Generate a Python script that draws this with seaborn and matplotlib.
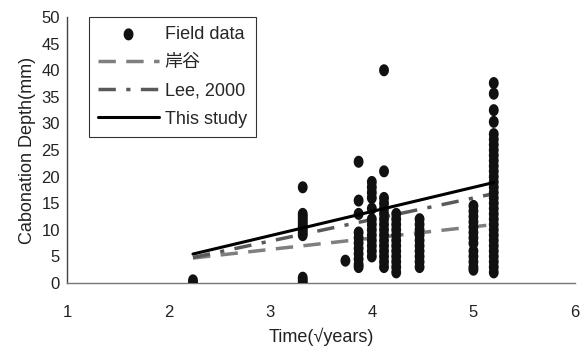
import matplotlib
matplotlib.use("Agg")
import matplotlib.pyplot as plt
import numpy as np
import pandas as pd
import seaborn as sns
from matplotlib.path import Path

sns.set_theme(style="white")
plt.rcParams["font.family"] = ["Liberation Sans", "Noto Sans CJK KR", "DejaVu Sans"]

# field measurements, one list per sqrt(age) column
field_x = [2.24, 3.32, 3.74, 3.87, 4.0, 4.12, 4.24, 4.47, 5.0, 5.2]
field_y = [
    [0, 0.5],
    [18, 13, 12.5, 12, 11.5, 11, 10.5, 10, 9.5, 9, 1, 0.5, 0],
    [4.2],
    [22.8, 15.5, 13, 9.5, 8.5, 7.5, 6.5, 5.5, 4.5, 3.5, 3],
    [19, 18, 17, 16, 14, 12, 11, 10, 9, 8, 7, 6, 5],
    [40, 21, 16, 15, 14, 13, 12, 11, 10, 9, 8, 7, 6, 5, 4, 3],
    [13, 12, 11, 10, 9, 8, 7, 6, 5, 4, 3, 2],
    [12, 11, 10, 9, 8, 7, 6, 5, 4, 3],
    [14.5, 13.5, 12.5, 11.5, 10.5, 9.5, 8.5, 7.5, 6, 5, 4, 3, 2.5],
    [37.6, 35.6, 32.5, 30.3, 28, 27, 26, 25, 24, 23, 22, 21, 20, 19, 18,
     17, 16, 15, 14, 13, 12, 11, 10, 9, 8, 7, 6, 5, 4, 3, 2],
]

# model lines (end points)
line_x = [2.24, 5.2]
kishitani_y = [4.7, 11.0]
lee_y = [4.8, 16.8]
this_study_y = [5.45, 18.9]

rows = [(x, y) for x, ys in zip(field_x, field_y) for y in ys]
df = pd.DataFrame(rows, columns=["time", "depth"])

# slightly tall ellipse marker
t = np.linspace(0, 2 * np.pi, 40)
ellipse = Path(np.column_stack([0.82 * np.cos(t), np.sin(t)]), closed=True)

fig = plt.figure(figsize=(5.85, 3.56), dpi=100)
ax = fig.add_axes([0.1145, 0.205, 0.8685, 0.747])

sns.scatterplot(data=df, x="time", y="depth", ax=ax, marker=ellipse,
                s=75, color="#111111", edgecolor="none", label="Field data",
                zorder=3)
sns.lineplot(x=line_x, y=kishitani_y, ax=ax, color="#7f7f7f", lw=2.5,
             label="岸谷", zorder=2).lines[-1].set_dashes([5, 3])
sns.lineplot(x=line_x, y=lee_y, ax=ax, color="#595959", lw=2.5,
             label="Lee, 2000", zorder=2).lines[-1].set_dashes([5, 3, 1.2, 3])
sns.lineplot(x=line_x, y=this_study_y, ax=ax, color="black", lw=2.2,
             label="This study", zorder=4)

ax.set_xlim(1, 6)
ax.set_ylim(0, 50)
ax.set_xticks(np.arange(1, 7, 1))
ax.set_yticks(np.arange(0, 51, 5))
ax.tick_params(axis="both", length=0, labelsize=12, colors="#222222", pad=5)
ax.tick_params(axis="x", pad=16)

for side in ["top", "right"]:
    ax.spines[side].set_visible(False)
ax.spines["left"].set_color("#444444")
ax.spines["bottom"].set_color("#777777")
ax.spines["left"].set_linewidth(1)
ax.spines["bottom"].set_linewidth(1)

ax.set_xlabel("Time(√years)", fontsize=13, color="#222222", labelpad=5)
ax.set_ylabel("Cabonation Depth(mm)", fontsize=13, color="#222222",
              labelpad=4)

leg = ax.legend(loc="upper left", bbox_to_anchor=(0.043, 1.0),
                fontsize=13, frameon=True, fancybox=False, edgecolor="black",
                handlelength=3.4, handletextpad=0.3, borderpad=0.5,
                labelspacing=0.62, borderaxespad=0)
leg.get_frame().set_linewidth(0.8)

fig.savefig("out.png", dpi=100)
